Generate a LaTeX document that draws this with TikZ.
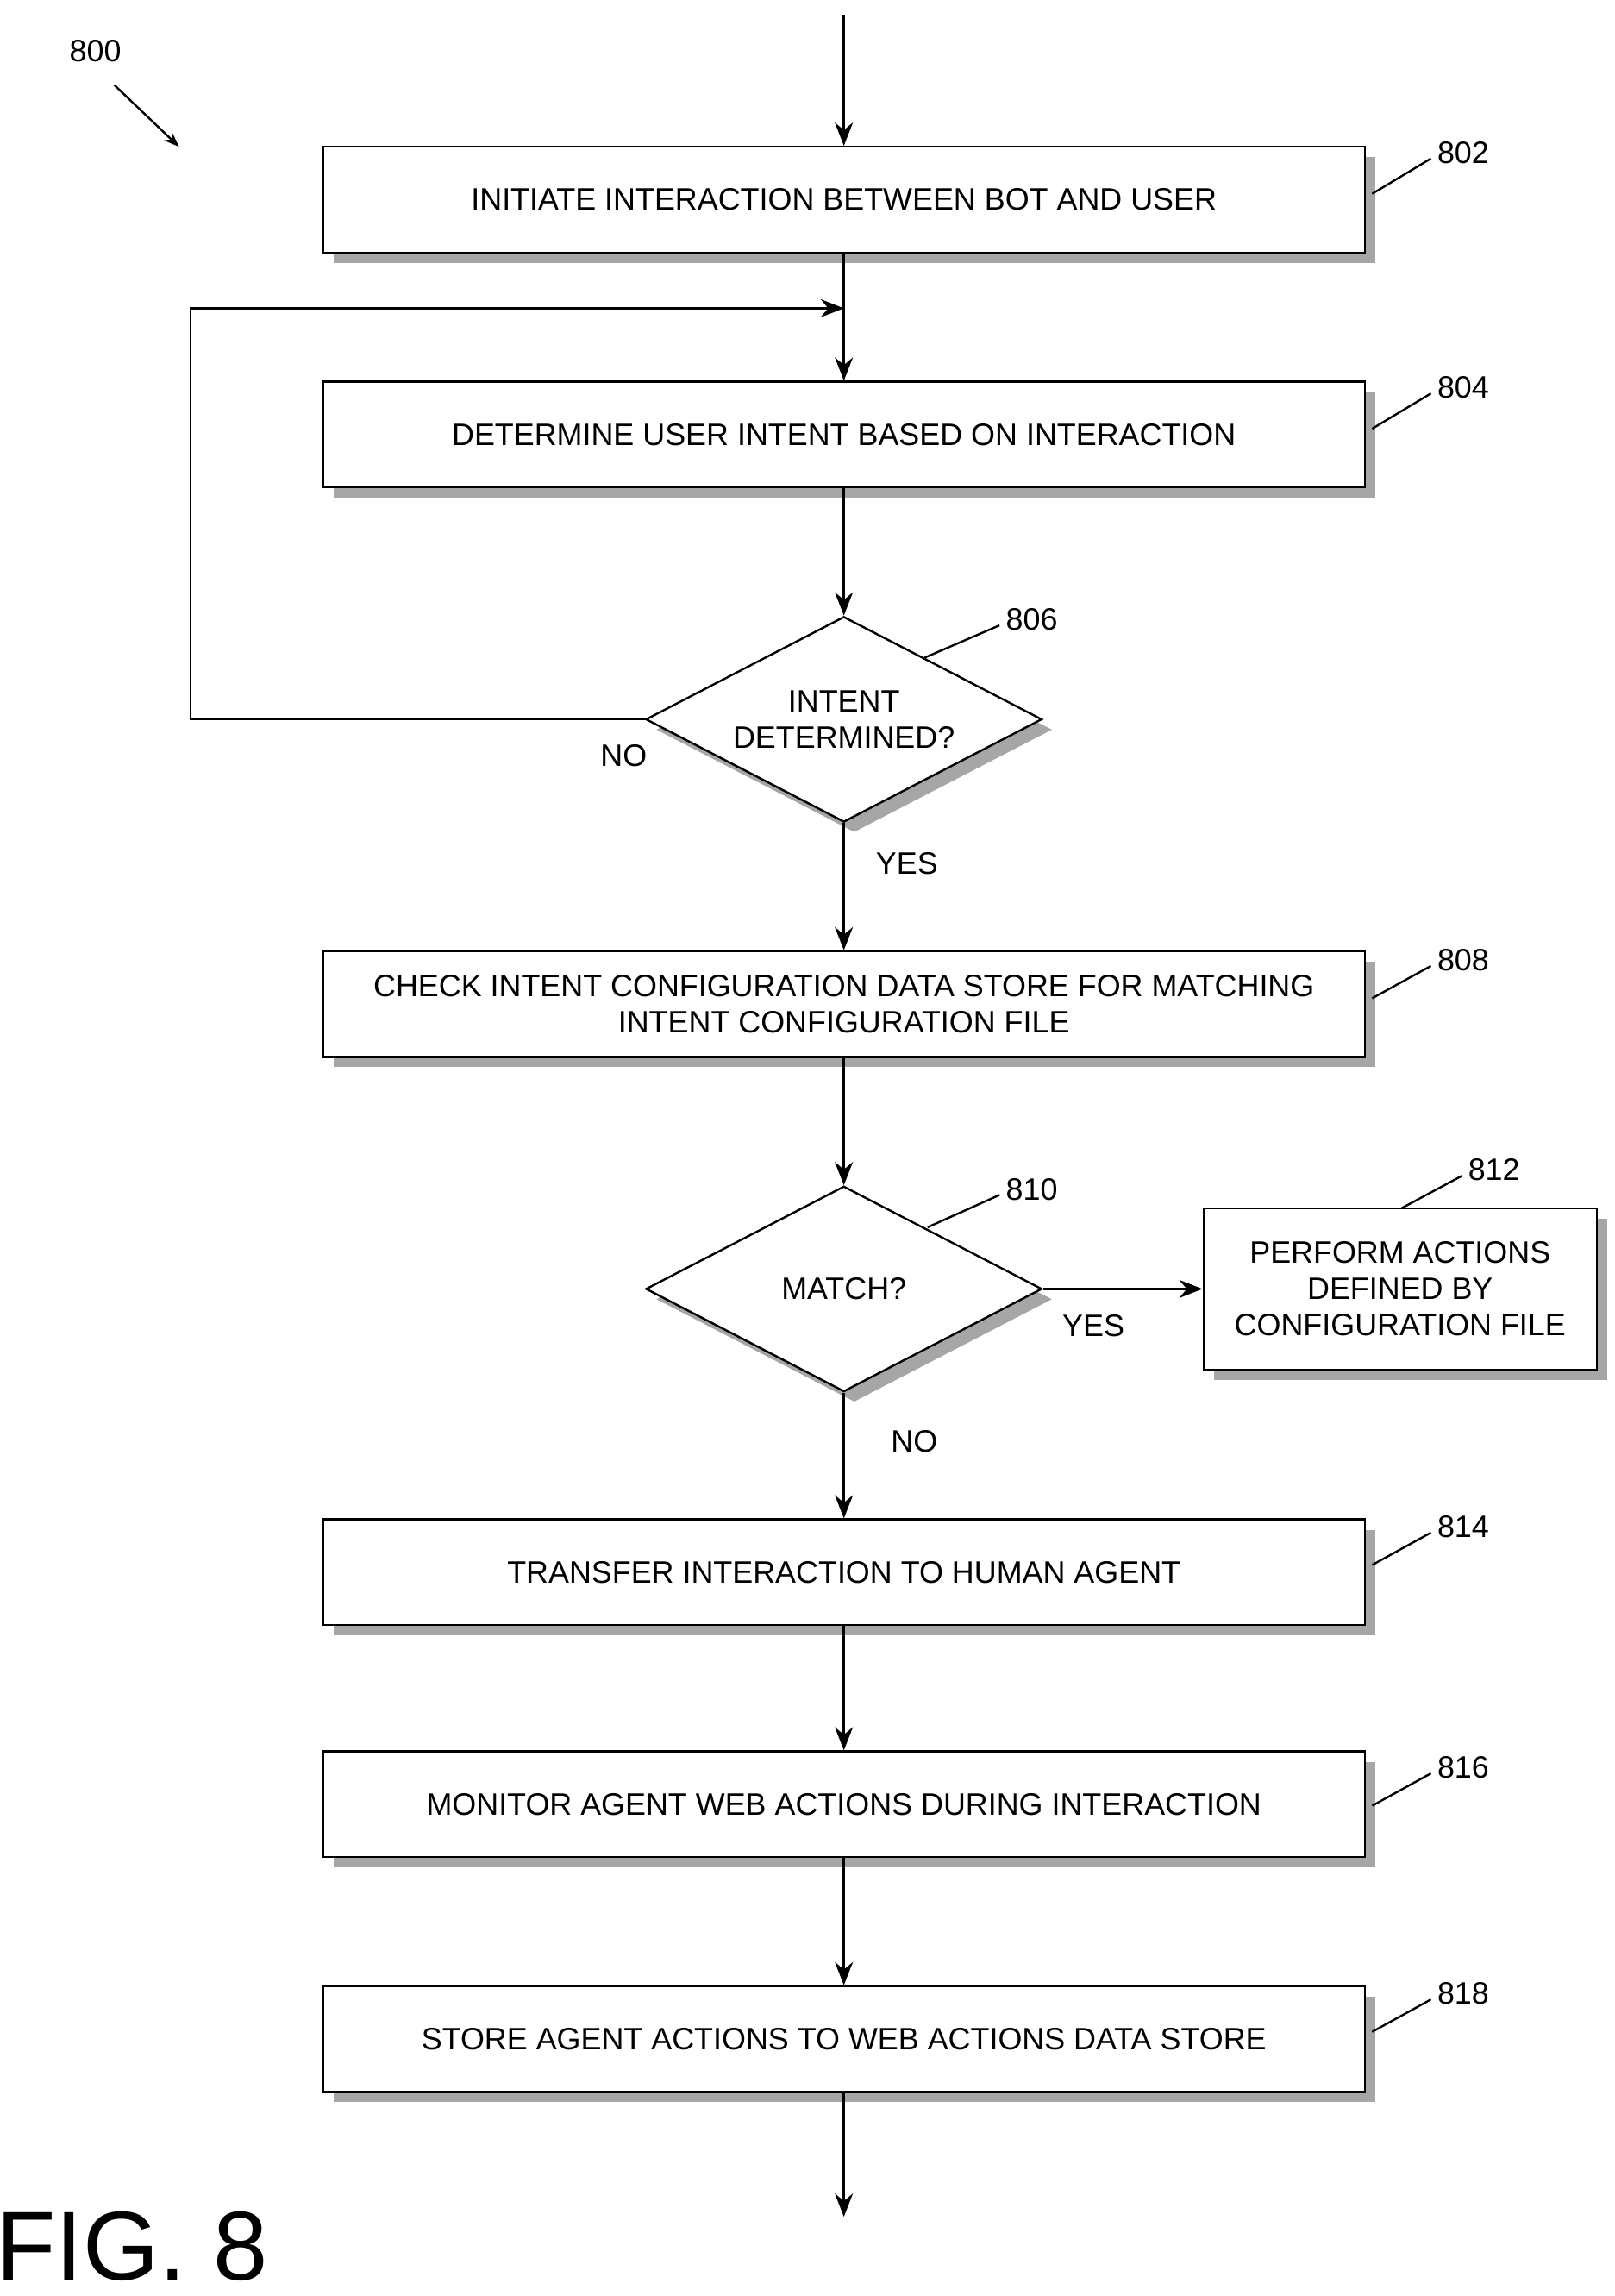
\documentclass[tikz,border=0pt]{standalone}
\usepackage{fontspec}
\setmainfont{Liberation Sans}
\usetikzlibrary{shapes.geometric,arrows.meta,positioning,shadows,calc}

\begin{document}
\begin{tikzpicture}[x=0.02cm, y=-0.02cm,
    box/.style={rectangle, draw, thick, fill=white, minimum width=14.2cm, minimum height=1.44cm, align=center, font=\large, drop shadow={shadow xshift=4pt, shadow yshift=-4pt, fill=gray!70, opacity=1}},
    side/.style={rectangle, draw, thick, fill=white, minimum width=5.36cm, minimum height=2.2cm, align=center, font=\large, drop shadow={shadow xshift=4pt, shadow yshift=-4pt, fill=gray!70, opacity=1}},
    test/.style={diamond, draw, thick, fill=white, aspect=1.93, minimum width=5.4cm, minimum height=2.8cm, inner sep=0pt, align=center, font=\large, drop shadow={shadow xshift=4pt, shadow yshift=-4pt, fill=gray!70, opacity=1}},
    flow/.style={-{Stealth[length=9pt,width=7pt]}, thick},
    ref/.style={font=\large},
    tag/.style={font=\large},
]
    \useasboundingbox (0,0) rectangle (1100,1564);

    % Steps
    \node[box] (init) at (575,136) {INITIATE INTERACTION BETWEEN BOT AND USER};
    \node[box] (intent) at (575,296) {DETERMINE USER INTENT BASED ON INTERACTION};
    \node[test] (found) at (575,490) {INTENT\\DETERMINED?};
    \node[box] (check) at (575,684) {CHECK INTENT CONFIGURATION DATA STORE FOR MATCHING\\INTENT CONFIGURATION FILE};
    \node[test] (match) at (575,878) {MATCH?};
    \node[side] (perform) at (954,878) {PERFORM ACTIONS\\DEFINED BY\\CONFIGURATION FILE};
    \node[box] (transfer) at (575,1071) {TRANSFER INTERACTION TO HUMAN AGENT};
    \node[box] (monitor) at (575,1229) {MONITOR AGENT WEB ACTIONS DURING INTERACTION};
    \node[box] (store) at (575,1389) {STORE AGENT ACTIONS TO WEB ACTIONS DATA STORE};

    % Free ends
    \coordinate (start) at (575,10);
    \coordinate (finish) at (575,1510);
    \coordinate (loop) at (575,210);

    % Connectors
    \draw[flow] (start) -- (init);
    \draw[flow] (init) -- (intent);
    \draw[flow] (intent) -- (found);
    \draw[flow] (found.west) -| (130,210) -- (loop);
    \draw[flow] (found) -- (check);
    \draw[flow] (check) -- (match);
    \draw[flow] (match.east) -- (perform);
    \draw[flow] (match) -- (transfer);
    \draw[flow] (transfer) -- (monitor);
    \draw[flow] (monitor) -- (store);
    \draw[flow] (store) -- (finish);

    % Branch labels
    \node[tag] (no1) at (425,515) {NO};
    \node[tag] (yes1) at (618,588) {YES};
    \node[tag] (yes2) at (745,903) {YES};
    \node[tag] (no2) at (623,982) {NO};

    % Reference numerals
    \node[ref] (n800) at (65,35) {800};
    \draw[-{Stealth[length=6pt]}, thick] (78,58) -- (122,100);
    \foreach \num/\x/\y/\lx/\ly in {802/997/104/935/132, 804/997/264/935/292, 808/997/654/935/680, 814/997/1040/935/1066, 816/997/1204/935/1230, 818/997/1358/935/1384, 806/703/422/630/448, 810/703/810/632/836, 812/1018/797/955/823} {
        \node[ref] (r\num) at (\x,\y) {\num};
        \draw[thick] (\lx,\ly) -- ($(\x,\y)+(-22,4)$);
    }
    \node[font=\fontsize{38}{40}\selectfont] (fig) at (90,1530) {FIG. 8};
\end{tikzpicture}
\end{document}
